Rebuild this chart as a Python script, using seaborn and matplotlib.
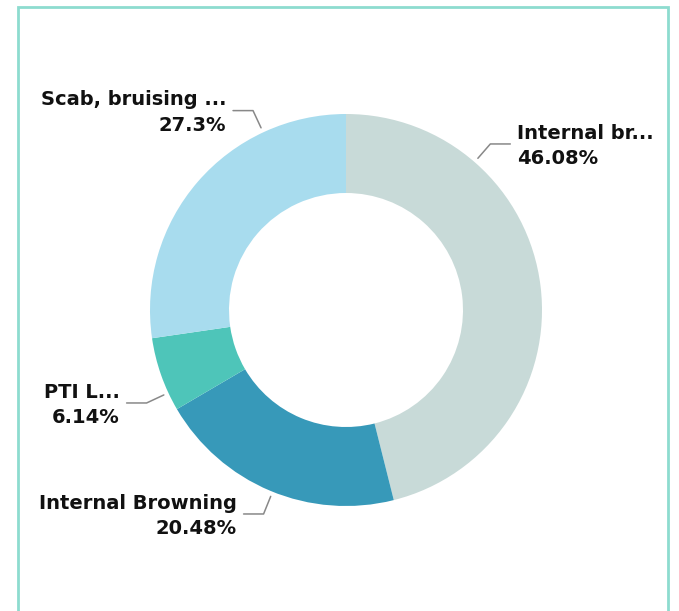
import matplotlib.pyplot as plt
from matplotlib.patches import Rectangle
import numpy as np
import seaborn as sns

sns.set_theme(style='white')
plt.rcParams['font.family'] = ['DejaVu Sans']

labels = ['Internal br...', 'Internal Browning', 'PTI L...', 'Scab, bruising ...']
values = [46.08, 20.48, 6.14, 27.3]
pct_text = ['46.08%', '20.48%', '6.14%', '27.3%']
colors = sns.color_palette(['#c8dad8', '#3799b9', '#4ec5b9', '#a8dcee'])

# where the leader lines leave each wedge (deg), and which side the label sits
label_angles = [49, 248, 205, 115]
label_side = ['right', 'left', 'left', 'left']

W, H = 679, 611
fig = plt.figure(figsize=(W / 100, H / 100), dpi=100)
ax = fig.add_axes([0, 0, 1, 1])
ax.set_xlim(0, W)
ax.set_ylim(0, H)
ax.axis('off')

cx, cy, R = 346, H - 310, 196
ax.pie(values, colors=colors, startangle=90, counterclock=False,
       center=(cx, cy), radius=R, wedgeprops=dict(width=79, linewidth=0))
ax.set_xlim(0, W)
ax.set_ylim(0, H)
ax.set_aspect('equal')

for lab, pt, ang, side in zip(labels, pct_text, label_angles, label_side):
    a = np.deg2rad(ang)
    x0, y0 = cx + 201 * np.cos(a), cy + 201 * np.sin(a)
    x1, y1 = cx + 220 * np.cos(a), cy + 220 * np.sin(a)
    d = 1 if side == 'right' else -1
    x2 = x1 + d * 20
    ax.plot([x0, x1, x2], [y0, y1, y1], color='#888888', lw=1.1)
    ha = 'left' if side == 'right' else 'right'
    ax.text(x2 + d * 7, y1 - 2, lab + '\n' + pt, ha=ha, va='center',
            multialignment=ha, fontsize=14, fontweight='bold',
            color='#111111', linespacing=1.42)

fig.patches.append(Rectangle((18 / W, -0.05), 650 / W, 1.05 - 7 / H,
                             transform=fig.transFigure, fill=False,
                             edgecolor='#8ddccf', lw=2))

plt.savefig('out.png', dpi=100)
